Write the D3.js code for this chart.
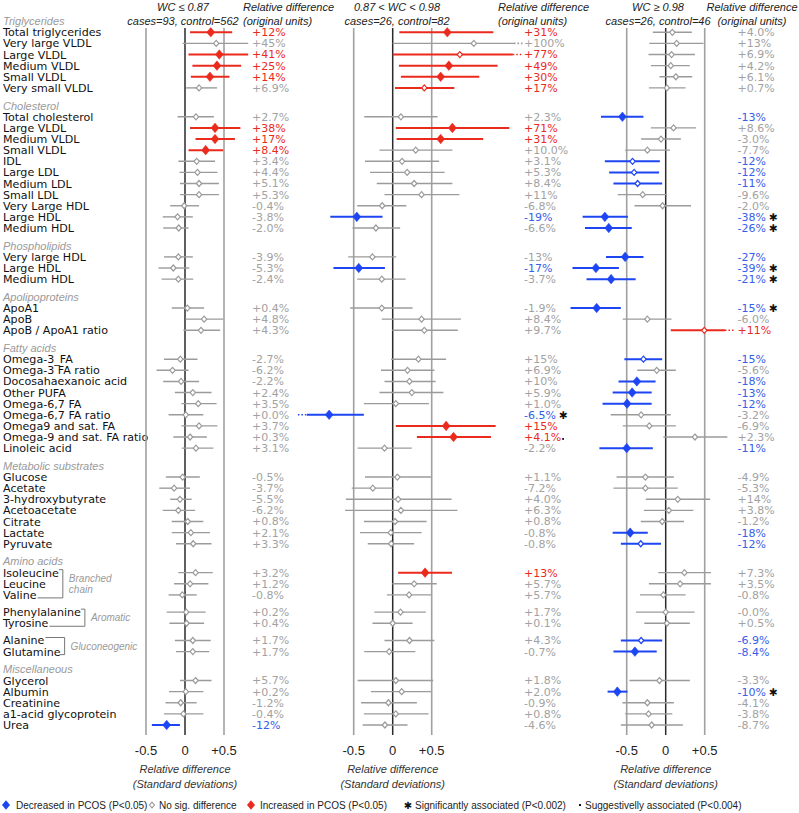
<!DOCTYPE html>
<html><head><meta charset="utf-8">
<script src="https://cdn.jsdelivr.net/npm/d3@7"></script>
<style>body{margin:0;background:#fff}svg{display:block}</style>
</head><body>
<svg id="c" width="799" height="813"></svg>
<script>
// ---------------- DATA ----------------
const groupNames = ["Triglycerides","Cholesterol","Phospholipids","Apolipoproteins","Fatty acids","Metabolic substrates","Amino acids","Miscellaneous"];
const groupSizes = [6,11,3,3,9,7,7,5];
const categories = [
 "Total triglycerides","Very large VLDL","Large VLDL","Medium VLDL","Small VLDL","Very small VLDL",
 "Total cholesterol","Large VLDL","Medium VLDL","Small VLDL","IDL","Large LDL","Medium LDL","Small LDL","Very Large HDL","Large HDL","Medium HDL",
 "Very large HDL","Large HDL","Medium HDL",
 "ApoA1","ApoB","ApoB / ApoA1 ratio",
 "Omega-3_FA","Omega-3 FA ratio","Docosahaexanoic acid","Other PUFA","Omega-6,7 FA","Omega-6,7 FA ratio","Omega9 and sat. FA","Omega-9 and sat. FA ratio","Linoleic acid",
 "Glucose","Acetate","3-hydroxybutyrate","Acetoacetate","Citrate","Lactate","Pyruvate",
 "Isoleucine","Leucine","Valine","Phenylalanine","Tyrosine","Alanine","Glutamine",
 "Glycerol","Albumin","Creatinine","a1-acid glycoprotein","Urea"];
const subgroupStarts = [39,42,44];           // row index where an amino-acid subgroup begins
const subgroupEnds   = [41,43,45];
const subgroupLabels = [["Branched","chain"],["Aromatic"],["Gluconeogenic"]];
const axisTicks = [-0.5,0,0.5];
const axisTickLabels = ["-0.5","0","+0.5"];

const panelTitles = ["WC \u2264 0.87","0.87 < WC < 0.98","WC \u2265 0.98"];
const panelCounts = ["cases=93, control=562","cases=26, control=82","cases=26, control=46"];

// Panel 1: WC <= 0.87
const p1Est = [0.33,0.40,0.44,0.41,0.32,0.18, 0.14,0.385,0.385,0.265,0.15,0.16,0.18,0.18,-0.01,-0.095,-0.08, -0.085,-0.15,-0.085, 0.03,0.245,0.205, -0.06,-0.16,-0.05,0.10,0.17,0.01,0.18,0.065,0.14, -0.03,-0.14,-0.065,-0.085,0.035,0.075,0.105, 0.135,0.065,-0.035,0.015,0.02,0.10,0.10, 0.135,0.01,-0.055,-0.02,-0.235];
const p1Lo  = [0.065,-0.03,0.045,0.095,0.075,0.015, -0.095,0.065,0.135,0.045,-0.085,-0.07,-0.065,-0.065,-0.19,-0.285,-0.28, -0.27,-0.34,-0.30, -0.17,0.005,-0.02, -0.27,-0.365,-0.28,-0.13,-0.045,-0.21,-0.045,-0.15,-0.04, -0.245,-0.33,-0.19,-0.285,-0.17,-0.17,-0.115, -0.085,-0.14,-0.21,-0.235,-0.20,-0.13,-0.115, -0.065,-0.205,-0.25,-0.27,-0.425];
const p1Hi  = [0.605,0.81,0.81,0.72,0.57,0.41, 0.37,0.71,0.64,0.49,0.385,0.415,0.435,0.435,0.18,0.10,0.045, 0.10,0.055,0.105, 0.245,0.49,0.45, 0.16,0.045,0.18,0.34,0.405,0.235,0.415,0.28,0.365, 0.19,0.065,0.085,0.13,0.235,0.32,0.34, 0.355,0.30,0.15,0.265,0.245,0.33,0.31, 0.34,0.235,0.15,0.235,-0.065];
const p1Sig = ["r","g","r","r","r","g", "g","r","r","r","g","g","g","g","g","g","g", "g","g","g", "g","g","g", "g","g","g","g","g","g","g","g","g", "g","g","g","g","g","g","g", "g","g","g","g","g","g","g", "g","g","g","g","b"];
const p1Txt = ["+12%","+45%","+41%","+25%","+14%","+6.9%", "+2.7%","+38%","+17%","+8.4%","+3.4%","+4.4%","+5.1%","+5.3%","-0.4%","-3.8%","-2.0%", "-3.9%","-5.3%","-2.4%", "+0.4%","+4.8%","+4.3%", "-2.7%","-6.2%","-2.2%","+2.4%","+3.5%","+0.0%","+3.7%","+0.3%","+3.1%", "-0.5%","-3.7%","-5.5%","-6.2%","+0.8%","+2.1%","+3.3%", "+3.2%","+1.2%","-0.8%","+0.2%","+0.4%","+1.7%","+1.7%", "+5.7%","+0.2%","-1.2%","-0.4%","-12%"];
const p1Ext = [];
const p1Mark = [];

// Panel 2: 0.87 < WC < 0.98
const p2Est = [0.70,1.04,0.86,0.72,0.615,0.405, 0.105,0.765,0.615,0.295,0.12,0.185,0.275,0.37,-0.135,-0.46,-0.215, -0.26,-0.435,-0.14, -0.14,0.37,0.405, 0.33,0.19,0.215,0.245,0.04,-0.815,0.685,0.78,-0.105, 0.06,-0.255,0.07,0.105,0.03,-0.025,-0.02, 0.415,0.275,0.21,0.10,0.0,0.215,-0.045, 0.04,0.115,-0.055,0.04,-0.10];
const p2Lo  = [0.085,0.0,0.0,0.08,0.105,0.03, -0.365,0.04,0.05,-0.17,-0.355,-0.29,-0.205,-0.105,-0.455,-0.80,-0.515, -0.57,-0.76,-0.455, -0.545,-0.14,-0.005, -0.02,-0.15,-0.105,-0.17,-0.37,-1.10,0.04,0.31,-0.45, -0.355,-0.525,-0.60,-0.61,-0.37,-0.42,-0.32, 0.07,-0.005,-0.075,-0.235,-0.26,-0.105,-0.365, -0.45,-0.28,-0.405,-0.37,-0.385];
const p2Hi  = [1.29,1.555,1.54,1.345,1.11,0.79, 0.575,1.495,1.16,0.765,0.595,0.665,0.765,0.855,0.175,-0.13,0.095, 0.045,-0.10,0.165, 0.255,0.875,0.835, 0.685,0.535,0.55,0.65,0.465,-0.37,1.32,1.26,0.245, 0.49,0.0,0.755,0.83,0.435,0.37,0.275, 0.76,0.565,0.495,0.425,0.255,0.535,0.29, 0.52,0.495,0.31,0.46,0.19];
const p2Sig = ["r","g","ro","r","r","ro", "g","r","r","g","g","g","g","g","g","b","g", "g","b","g", "g","g","g", "g","g","g","g","g","b","r","r","g", "g","g","g","g","g","g","g", "r","g","g","g","g","g","g", "g","g","g","g","g"];
const p2Txt = ["+31%","+100%","+77%","+49%","+30%","+17%", "+2.3%","+71%","+31%","+10.0%","+3.1%","+5.3%","+8.4%","+11%","-6.8%","-19%","-6.6%", "-13%","-17%","-3.7%", "-1.9%","+8.4%","+9.7%", "+15%","+6.9%","+10%","+5.9%","+1.0%","-6.5%","+15%","+4.1%","-2.2%", "+1.1%","-7.2%","+4.0%","+6.3%","+0.8%","-0.8%","-0.8%", "+13%","+5.7%","+5.7%","+1.7%","+0.1%","+4.3%","-0.7%", "+1.8%","+2.0%","-0.9%","+0.8%","-4.6%"];
const p2Ext = [[1,"hi"],[2,"hi"],[28,"lo"]];
const p2Mark = [[28,"\u2731"],[30,"\u00b7"]];

// Panel 3: WC >= 0.98
const p3Est = [0.085,0.14,0.075,0.065,0.13,0.015, -0.555,0.10,-0.06,-0.235,-0.425,-0.405,-0.36,-0.295,-0.04,-0.78,-0.73, -0.52,-0.895,-0.70, -0.885,-0.235,0.495, -0.285,-0.115,-0.37,-0.43,-0.495,-0.315,-0.21,0.375,-0.50, -0.26,-0.26,0.155,0.04,-0.045,-0.455,-0.32, 0.24,0.185,-0.03,0.0,0.015,-0.315,-0.395, -0.08,-0.62,-0.235,-0.22,-0.18];
const p3Lo  = [-0.165,-0.21,-0.22,-0.19,-0.08,-0.215, -0.83,-0.19,-0.315,-0.52,-0.78,-0.725,-0.67,-0.615,-0.40,-1.065,-1.035, -0.765,-1.195,-1.015, -1.22,-0.55,0.065, -0.53,-0.365,-0.605,-0.68,-0.81,-0.705,-0.55,-0.03,-0.85, -0.63,-0.67,-0.255,-0.28,-0.32,-0.68,-0.575, -0.095,-0.215,-0.33,-0.38,-0.275,-0.575,-0.67, -0.465,-0.745,-0.555,-0.52,-0.575];
const p3Hi  = [0.335,0.485,0.375,0.31,0.34,0.255, -0.285,0.39,0.195,0.055,-0.075,-0.085,-0.045,0.015,0.325,-0.485,-0.435, -0.285,-0.60,-0.385, -0.575,0.075,0.76, -0.045,0.13,-0.13,-0.18,-0.18,0.065,0.13,0.79,-0.165, 0.105,0.155,0.57,0.355,0.235,-0.23,-0.06, 0.58,0.58,0.255,0.37,0.31,-0.045,-0.115, 0.31,-0.49,0.105,0.085,0.22];
const p3Sig = ["g","g","g","g","g","g", "b","g","g","g","bo","bo","bo","g","g","b","b", "b","b","b", "b","g","ro", "bo","g","b","b","b","g","g","g","b", "g","g","g","g","g","b","bo", "g","g","g","g","g","bo","b", "g","b","g","g","g"];
const p3Txt = ["+4.0%","+13%","+6.9%","+4.2%","+6.1%","+0.7%", "-13%","+8.6%","-3.0%","-7.7%","-12%","-12%","-11%","-9.6%","-2.0%","-38%","-26%", "-27%","-39%","-21%", "-15%","-6.0%","+11%", "-15%","-5.6%","-18%","-13%","-12%","-3.2%","-6.9%","+2.3%","-11%", "-4.9%","-5.3%","+14%","+3.8%","-1.2%","-18%","-12%", "+7.3%","+3.5%","-0.8%","-0.0%","+0.5%","-6.9%","-8.4%", "-3.3%","-10%","-4.1%","-3.8%","-8.7%"];
const p3Ext = [[22,"hi"]];
const p3Mark = [[15,"\u2731"],[16,"\u2731"],[18,"\u2731"],[19,"\u2731"],[20,"\u2731"],[47,"\u2731"]];

const legendLabels = ["Decreased in PCOS (P<0.05)","No sig. difference","Increased in PCOS (P<0.05)","Significantly associated (P<0.002)","Suggestivelly associated (P<0.004)"];

// ---------------- LAYOUT ----------------
const RED="#ea2a1d", BLUE="#1d45f2", GRAY="#9b9b9b", TBLUE="#3560ea", TGRAY="#a2a2a2", REF="#a0a0a0";
const SANS="'DejaVu Sans', Verdana, sans-serif", ARIAL="'Liberation Sans', Arial, sans-serif";
const GAP=0.6, SUB=0.55;

const panels = [
 {est:p1Est,lo:p1Lo,hi:p1Hi,sig:p1Sig,txt:p1Txt,ext:p1Ext,mark:p1Mark,range:[146,224],valX:252,hdrX:243,hdrAnchor:"start",titleX:183},
 {est:p2Est,lo:p2Lo,hi:p2Hi,sig:p2Sig,txt:p2Txt,ext:p2Ext,mark:p2Mark,range:[353.7,431.7],valX:524,hdrX:498,hdrAnchor:"start",titleX:397},
 {est:p3Est,lo:p3Lo,hi:p3Hi,sig:p3Sig,txt:p3Txt,ext:p3Ext,mark:p3Mark,range:[626.7,704.7],valX:737.5,hdrX:752,hdrAnchor:"middle",titleX:658}
];

// slot positions
let s=0; const headerSlots=[], rowSlots=[]; let ri=0;
groupNames.forEach((g,gi)=>{
  if(gi>0) s+=1+GAP;
  headerSlots.push(s);
  for(let k=0;k<groupSizes[gi];k++){ s+=1; if(subgroupStarts.includes(ri)&&ri!==subgroupStarts[0]) s+=SUB; rowSlots.push(s); ri++; }
});
const y = d3.scaleLinear().domain([1,rowSlots[rowSlots.length-1]]).range([32.3,725]);

const svg = d3.select("#c");
const colorOf = c => c[0]==="r"?RED:c[0]==="b"?BLUE:GRAY;
const tColorOf = c => c[0]==="r"?RED:c[0]==="b"?TBLUE:TGRAY;
const diamond = (w,h)=>`M0,${-h}L${w},0L0,${h}L${-w},0Z`;

// group headers
svg.append("g").selectAll("text").data(groupNames).join("text")
  .attr("x",3).attr("y",(d,i)=>y(headerSlots[i])).attr("dy","0.35em")
  .attr("font-family",ARIAL).attr("font-style","italic").attr("font-size",11).attr("fill","#9a9a9a").text(d=>d);

// row labels
const labelSel = svg.append("g").selectAll("text").data(categories).join("text")
  .attr("x",3).attr("y",(d,i)=>y(rowSlots[i])).attr("dy","0.36em")
  .attr("font-family",SANS).attr("font-size",11.1).attr("fill","#111").text(d=>d);
const labelNodes = labelSel.nodes();

// subgroup brackets
subgroupStarts.forEach((st,k)=>{
  const en = subgroupEnds[k];
  let maxEnd=0;
  for(let i=st;i<=en;i++) maxEnd=Math.max(maxEnd,3+labelNodes[i].getComputedTextLength());
  const bx = maxEnd+4;
  const topEnd = 3+labelNodes[st].getComputedTextLength()+1;
  const botEnd = 3+labelNodes[en].getComputedTextLength()+1;
  const y0=y(rowSlots[st])-3, y1=y(rowSlots[en])+3;
  svg.append("path").attr("d",`M${Math.min(topEnd,bx-4)},${y0}H${bx}V${y1}H${Math.min(botEnd,bx-5)}`)
    .attr("fill","none").attr("stroke","#777").attr("stroke-width",1);
  const cy=(y(rowSlots[st])+y(rowSlots[en]))/2;
  const lines=subgroupLabels[k];
  lines.forEach((t,j)=>{
    svg.append("text").attr("x",bx+6).attr("y",cy+(j-(lines.length-1)/2)*10.5).attr("dy","0.35em")
      .attr("font-family",ARIAL).attr("font-style","italic").attr("font-size",10).attr("fill","#9a9a9a").text(t);
  });
});

// panels
panels.forEach((p,pi)=>{
  const x = d3.scaleLinear().domain([-0.5,0.5]).range(p.range);
  const g = svg.append("g");
  const cx = x(0);
  // headers
  g.append("text").attr("x",p.titleX).attr("y",11).attr("text-anchor","middle").attr("font-family",ARIAL).attr("font-style","italic").attr("font-size",11).attr("fill","#222").text(panelTitles[pi]);
  g.append("text").attr("x",p.titleX).attr("y",25).attr("text-anchor","middle").attr("font-family",ARIAL).attr("font-style","italic").attr("font-size",11).attr("fill","#222").text(panelCounts[pi]);
  g.append("text").attr("x",p.hdrX).attr("y",11).attr("text-anchor",p.hdrAnchor).attr("font-family",ARIAL).attr("font-style","italic").attr("font-size",11).attr("fill","#222").text("Relative difference");
  g.append("text").attr("x",p.hdrX).attr("y",25).attr("text-anchor",p.hdrAnchor).attr("font-family",ARIAL).attr("font-style","italic").attr("font-size",11).attr("fill","#222").text("(original units)");

  // reference lines
  g.append("g").selectAll("line").data(axisTicks).join("line")
    .attr("x1",d=>x(d)).attr("x2",d=>x(d)).attr("y1",28).attr("y2",735)
    .attr("stroke",d=>d===0?"#2a2a2a":REF).attr("stroke-width",d=>d===0?1.5:1.6);

  // axis tick labels
  g.append("g").selectAll("text").data(axisTicks).join("text")
    .attr("x",d=>x(d)).attr("y",755).attr("text-anchor","middle")
    .attr("font-family",ARIAL).attr("font-size",13).attr("fill","#222").text((d,i)=>axisTickLabels[i]);
  g.append("text").attr("x",cx).attr("y",773).attr("text-anchor","middle").attr("font-family",ARIAL).attr("font-style","italic").attr("font-size",11).attr("fill","#333").text("Relative difference");
  g.append("text").attr("x",cx).attr("y",788).attr("text-anchor","middle").attr("font-family",ARIAL).attr("font-style","italic").attr("font-size",11).attr("fill","#333").text("(Standard deviations)");

  const idx = d3.range(categories.length);
  // CIs
  g.append("g").selectAll("line").data(idx).join("line")
    .attr("x1",i=>x(p.lo[i])).attr("x2",i=>x(p.hi[i])).attr("y1",i=>y(rowSlots[i])).attr("y2",i=>y(rowSlots[i]))
    .attr("stroke",i=>colorOf(p.sig[i])).attr("stroke-width",i=>p.sig[i][0]==="g"?1.4:2);
  // dotted extensions
  g.append("g").selectAll("line").data(p.ext).join("line")
    .attr("x1",d=>d[1]==="hi"?x(p.hi[d[0]]):x(p.lo[d[0]])-9)
    .attr("x2",d=>d[1]==="hi"?x(p.hi[d[0]])+9:x(p.lo[d[0]]))
    .attr("y1",d=>y(rowSlots[d[0]])).attr("y2",d=>y(rowSlots[d[0]]))
    .attr("stroke",d=>colorOf(p.sig[d[0]])).attr("stroke-width",1.6).attr("stroke-dasharray","1.5,2");
  // markers
  g.append("g").selectAll("path").data(idx).join("path")
    .attr("transform",i=>`translate(${x(p.est[i])},${y(rowSlots[i])})`)
    .attr("d",i=>(p.sig[i]==="r"||p.sig[i]==="b")?diamond(4,4.8):diamond(2.7,3))
    .attr("fill",i=>(p.sig[i]==="r"||p.sig[i]==="b")?colorOf(p.sig[i]):"#fff")
    .attr("stroke",i=>colorOf(p.sig[i])).attr("stroke-width",i=>(p.sig[i]==="r"||p.sig[i]==="b")?0.5:1.2);
  // value texts
  const vt = g.append("g").selectAll("text").data(idx).join("text")
    .attr("x",p.valX).attr("y",i=>y(rowSlots[i])).attr("dy","0.36em")
    .attr("font-family",SANS).attr("font-size",11).attr("fill",i=>tColorOf(p.sig[i])).text(i=>p.txt[i]);
  const vtn = vt.nodes();
  p.mark.forEach(([i,m])=>{
    const w = vtn[i].getComputedTextLength();
    if(m==="\u00b7"){
      g.append("rect").attr("x",p.valX+w+1).attr("y",y(rowSlots[i])+1).attr("width",1.8).attr("height",1.8).attr("fill","#111");
    } else {
      g.append("text").attr("x",p.valX+w+3).attr("y",y(rowSlots[i])).attr("dy","0.38em")
        .attr("font-family",SANS).attr("font-size",10.5).attr("fill","#111").text(m);
    }
  });
});

// legend
const LY=805;
const lg = svg.append("g");
const legendX = [16,159,260,415,585];
lg.selectAll("text").data(legendLabels).join("text")
  .attr("x",(d,i)=>legendX[i]).attr("y",LY).attr("dy","0.35em")
  .attr("font-family",ARIAL).attr("font-size",10).attr("fill","#222").text(d=>d);
lg.append("path").attr("transform",`translate(6,${LY})`).attr("d",diamond(4,4.8)).attr("fill",BLUE);
lg.append("path").attr("transform",`translate(152,${LY})`).attr("d",diamond(2.5,2.8)).attr("fill","#fff").attr("stroke",GRAY).attr("stroke-width",1.1);
lg.append("path").attr("transform",`translate(251,${LY})`).attr("d",diamond(4,4.8)).attr("fill",RED);
lg.append("text").attr("x",408).attr("y",LY).attr("dy","0.38em").attr("text-anchor","middle").attr("font-family",SANS).attr("font-size",10).attr("fill","#111").text("\u2731");
lg.append("rect").attr("x",579).attr("y",LY-1).attr("width",2).attr("height",2).attr("fill","#111");
</script>
</body></html>
